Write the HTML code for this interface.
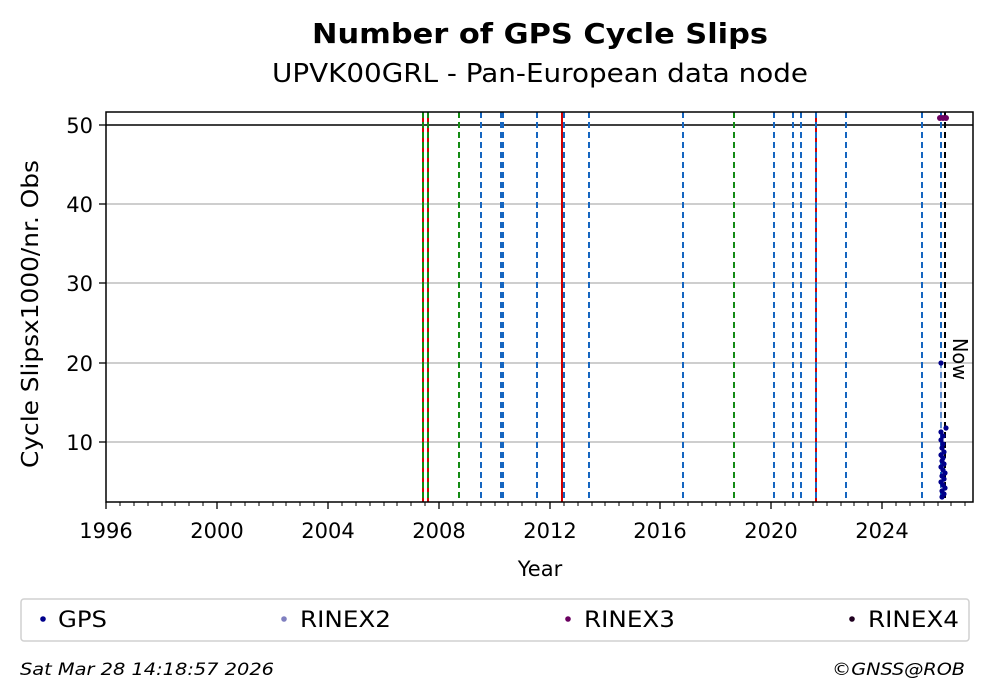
<!DOCTYPE html>
<html><head><meta charset="utf-8"><style>
html,body{margin:0;padding:0;background:#fff}
svg{display:block;font-family:"DejaVu Sans","Liberation Sans",sans-serif}
</style></head><body>
<svg width="992" height="699" viewBox="0 0 992 699" xmlns="http://www.w3.org/2000/svg">
<rect width="992" height="699" fill="#fff"/>
<text x="312" y="43" font-size="28" font-weight="bold" textLength="456" lengthAdjust="spacingAndGlyphs">Number of GPS Cycle Slips</text>
<text x="272" y="82" font-size="26" textLength="536" lengthAdjust="spacingAndGlyphs">UPVK00GRL - Pan-European data node</text>
<g stroke="#b0b0b0" stroke-width="1.2">
<line x1="106" x2="973" y1="204" y2="204"/><line x1="106" x2="973" y1="283" y2="283"/>
<line x1="106" x2="973" y1="363" y2="363"/><line x1="106" x2="973" y1="442" y2="442"/>
</g>
<line x1="106" x2="973" y1="125" y2="125" stroke="#000" stroke-width="1.5"/>
<g stroke-width="2" stroke-dasharray="6,4">
<line x1="423" x2="423" y1="112" y2="502" stroke="#d40000" stroke-dasharray="none"/>
<line x1="423" x2="423" y1="112" y2="502" stroke="#138a13"/>
<line x1="428" x2="428" y1="112" y2="502" stroke="#d40000" stroke-dasharray="none"/>
<line x1="428" x2="428" y1="112" y2="502" stroke="#138a13"/>
<line x1="459" x2="459" y1="112" y2="502" stroke="#138a13"/>
<line x1="481" x2="481" y1="112" y2="502" stroke="#1565c0"/>
<line x1="501" x2="501" y1="112" y2="502" stroke="#1565c0"/>
<line x1="503" x2="503" y1="112" y2="502" stroke="#1565c0"/>
<line x1="537" x2="537" y1="112" y2="502" stroke="#1565c0"/>
<line x1="562" x2="562" y1="112" y2="502" stroke="#d40000" stroke-dasharray="none"/>
<line x1="564" x2="564" y1="112" y2="502" stroke="#1565c0"/>
<line x1="589" x2="589" y1="112" y2="502" stroke="#1565c0"/>
<line x1="683" x2="683" y1="112" y2="502" stroke="#1565c0"/>
<line x1="734" x2="734" y1="112" y2="502" stroke="#138a13"/>
<line x1="774" x2="774" y1="112" y2="502" stroke="#1565c0"/>
<line x1="793" x2="793" y1="112" y2="502" stroke="#1565c0"/>
<line x1="801" x2="801" y1="112" y2="502" stroke="#1565c0"/>
<line x1="816" x2="816" y1="112" y2="502" stroke="#d40000" stroke-dasharray="none"/>
<line x1="816" x2="816" y1="112" y2="502" stroke="#1565c0"/>
<line x1="846" x2="846" y1="112" y2="502" stroke="#1565c0"/>
<line x1="922" x2="922" y1="112" y2="502" stroke="#1565c0"/>
<line x1="941" x2="941" y1="112" y2="502" stroke="#1565c0"/>
<line x1="945" x2="945" y1="112" y2="502" stroke="#000"/>
</g>
<text x="953" y="338" font-size="20" transform="rotate(90 953 338)" textLength="42" lengthAdjust="spacingAndGlyphs">Now</text>
<polyline points="941,363 941,432 942,440 943,446 941,452 942,458 944,463 941,468 943,473 942,478 944,483 941,488 943,492 942,497" fill="none" stroke="#c8c8e8" stroke-width="0.8"/>
<g fill="#00008b">
<circle cx="941" cy="363" r="2.6"/><circle cx="946" cy="428" r="2.6"/><circle cx="941" cy="432" r="2.6"/><circle cx="943" cy="436" r="2.6"/>
<circle cx="941" cy="440" r="2.6"/><circle cx="943" cy="444" r="2.6"/><circle cx="942" cy="448" r="2.6"/><circle cx="944" cy="452" r="2.6"/>
<circle cx="941" cy="455" r="2.6"/><circle cx="943" cy="458" r="2.6"/><circle cx="942" cy="461" r="2.6"/><circle cx="944" cy="464" r="2.6"/>
<circle cx="941" cy="467" r="2.6"/><circle cx="943" cy="470" r="2.6"/><circle cx="945" cy="473" r="2.6"/><circle cx="942" cy="476" r="2.6"/>
<circle cx="944" cy="479" r="2.6"/><circle cx="941" cy="482" r="2.6"/><circle cx="943" cy="485" r="2.6"/><circle cx="945" cy="488" r="2.6"/>
<circle cx="942" cy="491" r="2.6"/><circle cx="944" cy="494" r="2.6"/><circle cx="942" cy="497" r="2.6"/>
</g>
<g fill="#6a0060"><circle cx="940" cy="118" r="3"/><circle cx="943" cy="118" r="3"/><circle cx="946" cy="118" r="3"/></g>
<rect x="106" y="112" width="867" height="390" fill="none" stroke="#000" stroke-width="1.5"/>
<g stroke="#000" stroke-width="1.3">
<line x1="99" x2="106" y1="125" y2="125"/><line x1="99" x2="106" y1="204" y2="204"/>
<line x1="99" x2="106" y1="283" y2="283"/><line x1="99" x2="106" y1="363" y2="363"/><line x1="99" x2="106" y1="442" y2="442"/>
</g>
<g font-size="21" text-anchor="end">
<text x="93" y="133">50</text><text x="93" y="212">40</text><text x="93" y="291">30</text><text x="93" y="371">20</text><text x="93" y="450">10</text>
</g>
<text x="38" y="314" font-size="23" text-anchor="middle" transform="rotate(-90 38 314)" textLength="308" lengthAdjust="spacingAndGlyphs">Cycle Slipsx1000/nr. Obs</text>
<g stroke="#000" stroke-width="1.3">
<line x1="106" x2="106" y1="502" y2="509"/><line x1="217" x2="217" y1="502" y2="509"/><line x1="328" x2="328" y1="502" y2="509"/>
<line x1="439" x2="439" y1="502" y2="509"/><line x1="550" x2="550" y1="502" y2="509"/><line x1="660" x2="660" y1="502" y2="509"/>
<line x1="771" x2="771" y1="502" y2="509"/><line x1="882" x2="882" y1="502" y2="509"/>
</g>
<g stroke="#000" stroke-width="1">
<path d="M120 502v4M134 502v4M148 502v4M162 502v4M175 502v4M189 502v4M203 502v4M231 502v4M245 502v4M259 502v4M273 502v4M286 502v4M300 502v4M314 502v4M342 502v4M356 502v4M370 502v4M384 502v4M397 502v4M411 502v4M425 502v4M453 502v4M467 502v4M481 502v4M495 502v4M508 502v4M522 502v4M536 502v4M564 502v4M578 502v4M592 502v4M605 502v4M619 502v4M633 502v4M647 502v4M674 502v4M688 502v4M702 502v4M716 502v4M730 502v4M744 502v4M757 502v4M785 502v4M799 502v4M813 502v4M827 502v4M841 502v4M854 502v4M868 502v4M896 502v4M910 502v4M924 502v4M938 502v4M951 502v4M965 502v4"/>
</g>
<g font-size="21" text-anchor="middle">
<text x="106" y="538">1996</text><text x="217" y="538">2000</text><text x="328" y="538">2004</text><text x="439" y="538">2008</text>
<text x="550" y="538">2012</text><text x="660" y="538">2016</text><text x="771" y="538">2020</text><text x="882" y="538">2024</text>
</g>
<text x="540" y="576" font-size="21" text-anchor="middle">Year</text>
<rect x="21" y="599" width="948" height="42" rx="3" fill="#fff" stroke="#d0d0d0" stroke-width="1.5"/>
<circle cx="43" cy="619" r="2.8" fill="#00008b"/><text x="58" y="627" font-size="22" textLength="49" lengthAdjust="spacingAndGlyphs">GPS</text>
<circle cx="284" cy="619" r="2.8" fill="#8080c0"/><text x="300" y="627" font-size="22" textLength="91" lengthAdjust="spacingAndGlyphs">RINEX2</text>
<circle cx="568" cy="619" r="2.8" fill="#6a0060"/><text x="584" y="627" font-size="22" textLength="91" lengthAdjust="spacingAndGlyphs">RINEX3</text>
<circle cx="852" cy="619" r="2.8" fill="#200020"/><text x="868" y="627" font-size="22" textLength="91" lengthAdjust="spacingAndGlyphs">RINEX4</text>
<text x="20" y="675" font-size="17" font-style="italic" textLength="254" lengthAdjust="spacingAndGlyphs">Sat Mar 28 14:18:57 2026</text>
<text x="832" y="675" font-size="17" font-style="italic" textLength="133" lengthAdjust="spacingAndGlyphs">©GNSS@ROB</text>
</svg>
</body></html>
